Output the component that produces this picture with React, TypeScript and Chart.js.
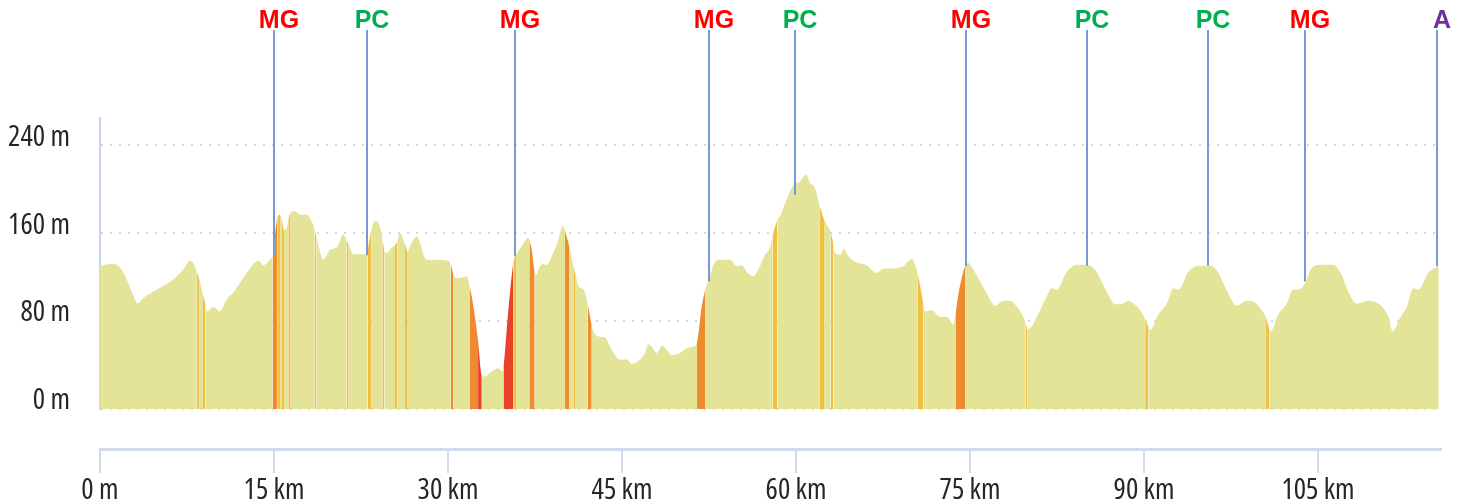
import React, { useEffect, useRef } from 'react';
import { Chart, registerables } from 'chart.js';

Chart.register(...registerables);

// Profile: distance (km) and elevation (m)
const distanceKm = [
  0, 0.26, 1.12, 1.72, 2.3, 2.84, 3.25, 3.73, 4.59, 5.46, 6.32, 7.18, 7.76, 8.1, 8.34, 8.53, 8.88, 9.09, 9.2, 9.77,
  10.34, 10.92, 11.49, 12.65, 13.65, 14.08, 14.66, 14.89, 15.28, 15.52, 15.69, 15.86, 16.12, 16.23, 16.44, 16.81, 17.24, 17.82, 18.25, 18.49,
  18.66, 19.25, 19.83, 20.41, 20.97, 21.27, 21.44, 21.84, 22.99, 23.08, 23.42, 23.71, 24.14, 24.34, 24.51, 24.72, 25.15, 25.43, 25.63, 25.86,
  26.29, 26.53, 26.72, 27.3, 28.16, 28.73, 30.03, 30.23, 30.46, 30.75, 31.32, 31.61, 31.9, 32.18, 32.59, 32.91, 33.19, 33.62, 34.34, 34.72,
  34.78, 35.2, 35.63, 35.86, 36.35, 36.92, 37.01, 37.22, 37.47, 37.59, 37.93, 38.22, 38.51, 38.94, 39.51, 39.89, 40.09, 40.43, 40.52, 40.8,
  41.01, 41.23, 41.66, 41.96, 42.04, 42.39, 42.53, 42.96, 43.53, 44.11, 44.83, 45.41, 45.84, 46.55, 46.98, 47.27, 47.56, 47.99, 48.47, 48.85,
  49.28, 50.0, 50.58, 51.15, 51.47, 51.87, 52.16, 52.53, 52.87, 53.3, 54.31, 54.89, 55.32, 55.75, 56.32, 56.75, 57.33, 57.76, 57.99, 58.39,
  58.62, 59.2, 59.77, 60.34, 60.86, 61.21, 61.64, 62.01, 62.41, 62.65, 62.99, 63.22, 63.36, 63.79, 64.14, 64.51, 65.23, 66.09, 66.96, 67.53,
  68.39, 69.25, 69.97, 70.41, 70.46, 70.97, 71.12, 71.7, 72.41, 72.99, 73.56, 73.79, 73.99, 74.57, 74.85, 75.28, 75.86, 76.58, 77.16, 77.87,
  78.45, 79.03, 79.59, 79.8, 79.97, 80.17, 81.03, 81.61, 82.04, 82.47, 83.34, 84.2, 85.06, 85.78, 86.35, 86.92, 87.5, 88.08, 88.65, 89.22,
  89.66, 90.17, 90.37, 90.52, 91.23, 91.96, 92.53, 92.96, 93.82, 94.83, 95.54, 96.12, 96.7, 97.27, 97.99, 98.85, 99.42, 100.0, 100.52, 100.8,
  100.92, 101.57, 102.3, 102.87, 103.3, 103.97, 104.31, 105.17, 106.32, 107.04, 107.6, 108.34, 109.34, 110.34, 111.06, 111.44, 112.07, 112.66, 113.22, 113.65,
  114.5, 115.4,
];
const elevationM = [
  130, 131, 132, 129, 118, 104, 96, 101, 107, 112, 118, 127, 135, 132, 125, 119, 104, 95, 89, 93,
  89, 100, 106, 124, 135, 131, 136, 140, 174, 177, 172, 163, 166, 172, 179, 180, 177, 177, 171, 164,
  157, 136, 145, 147, 159, 154, 150, 141, 141, 145, 164, 171, 166, 155, 145, 142, 147, 149, 153, 160,
  150, 143, 148, 157, 136, 136, 135, 132, 123, 119, 120, 121, 110, 94, 62, 31, 29.5, 33, 37, 34,
  38, 90, 133, 140, 148, 156, 154, 145, 125, 122, 130, 132, 131, 139, 154, 167, 162, 149, 145, 131,
  122, 112, 109, 100, 96, 76, 71, 66, 65, 54, 45, 45, 41, 45, 51, 59, 57, 51, 57.5, 54,
  49, 51, 55.5, 57, 61, 93, 108, 119, 131, 136, 136, 130, 131, 125, 121, 127, 140.5, 147, 158, 172,
  175.5, 191, 204, 207, 213.5, 206, 201, 186, 173, 168, 161, 150, 142, 140.5, 146, 139, 133.5, 131, 124, 128,
  128, 130, 136.6, 127, 125, 97, 89, 90, 84, 84, 77, 90, 104, 130, 133, 127, 116, 102.5, 94, 98.6,
  98.6, 93.4, 84, 78, 73, 73.6, 90, 102.5, 110, 108.6, 125, 131.4, 131.4, 127, 116, 104, 95.5, 95.5, 98.6, 95,
  90, 80, 75, 72, 86, 96, 110, 108.6, 125, 130.5, 130.5, 128.4, 117.7, 105, 94, 98.6, 98, 92, 83, 73,
  70.5, 86, 96, 109, 108.6, 116, 126, 131.4, 131.4, 122, 107, 96, 98.6, 95, 84, 70.5, 83, 93.4, 110, 108.6,
  124, 130,
];

// Steep sections: start km, end km, grade class (1 = moderate, 2 = steep, 3 = very steep)
const gradeStartKm = [8.34, 8.88, 14.89, 15.28, 15.69, 16.23, 18.49, 21.27, 23.08, 24.34, 25.43, 26.29, 30.23, 31.9, 32.59, 34.78, 35.63, 37.01, 40.09, 40.8, 42.04, 51.47, 57.99, 62.01, 62.99, 70.46, 73.79, 79.8, 90.17, 100.52];
const gradeEndKm = [8.53, 9.09, 15.28, 15.52, 15.86, 16.44, 18.66, 21.44, 23.42, 24.51, 25.63, 26.53, 30.46, 32.59, 32.91, 35.63, 35.86, 37.47, 40.43, 41.01, 42.39, 52.16, 58.39, 62.41, 63.22, 70.97, 74.57, 79.97, 90.37, 100.8];
const gradeClass = [1, 1, 2, 1, 1, 1, 1, 1, 1, 1, 1, 1, 2, 2, 3, 3, 1, 2, 2, 1, 2, 2, 1, 1, 1, 1, 2, 1, 1, 1];

// Markers along the route
const markerKm = [15.0, 23.02, 35.78, 52.5, 59.91, 74.66, 85.09, 95.52, 103.88, 115.26];
const markerElevM = [140, 140, 139, 116, 195, 130, 130.5, 130.5, 116, 130];
const markerLabel = ['MG', 'PC', 'MG', 'MG', 'PC', 'MG', 'PC', 'PC', 'MG', 'A'];

// Axis ticks
const xTicksKm = [0, 15, 30, 45, 60, 75, 90, 105];
const yTicksM = [0, 80, 160, 240];

const labelColors: Record<string, string> = { MG: '#ff0000', PC: '#00b050', A: '#7030a0' };
const gradeColors = ['#e3e497', '#f2bf45', '#ef8a2e', '#e8432a'];
const axisFont = {
  family: "'Open Sans', 'DejaVu Sans Condensed', sans-serif",
  weight: '400 condensed',
  size: 29,
};
const axisLine = '#d2daee';

export default function App() {
  const ref = useRef<HTMLCanvasElement>(null);

  useEffect(() => {
    const canvas = ref.current;
    if (!canvas) return;
    const points = distanceKm.map((x, i) => ({ x, y: elevationM[i] }));

    const colorFor = (a: number, b: number) => {
      const m = (a + b) / 2;
      for (let i = 0; i < gradeStartKm.length; i++) {
        if (m > gradeStartKm[i] && m < gradeEndKm[i]) return gradeColors[gradeClass[i]];
      }
      return gradeColors[0];
    };

    const markerPlugin = {
      id: 'markers',
      afterDatasetsDraw(chart: any) {
        const { ctx, scales } = chart;
        const xs = scales.x;
        const ys = scales.y;
        ctx.save();
        markerKm.forEach((km, i) => {
          const px = Math.round(xs.getPixelForValue(km));
          const py = ys.getPixelForValue(markerElevM[i]);
          ctx.strokeStyle = '#7898d6';
          ctx.lineWidth = 2;
          ctx.beginPath();
          ctx.moveTo(px, 30);
          ctx.lineTo(px, py);
          ctx.stroke();
          ctx.fillStyle = labelColors[markerLabel[i]];
          ctx.font = "bold 25px 'Liberation Sans', Arial, sans-serif";
          ctx.textAlign = 'center';
          ctx.textBaseline = 'alphabetic';
          ctx.fillText(markerLabel[i], px + 5, 28);
        });
        ctx.restore();
      },
    };

    const chart = new Chart(canvas, {
      type: 'line',
      data: {
        datasets: [
          {
            data: points,
            parsing: false as any,
            fill: 'origin',
            backgroundColor: gradeColors[0],
            borderColor: 'rgba(0,0,0,0)',
            borderWidth: 0,
            pointRadius: 0,
            cubicInterpolationMode: 'monotone',
            segment: {
              backgroundColor: (c: any) => colorFor(c.p0.parsed.x, c.p1.parsed.x),
            },
          } as any,
        ],
      },
      options: {
        animation: false,
        responsive: false,
        devicePixelRatio: 1,
        layout: { padding: { top: 118, right: 24, left: 0, bottom: 0 } },
        plugins: { legend: { display: false }, tooltip: { enabled: false } },
        scales: {
          x: {
            type: 'linear',
            position: 'bottom',
            weight: 0,
            min: 0,
            max: 115.6,
            ticks: { display: false },
            grid: { display: false },
            border: { display: false },
            afterFit: (s: any) => { s.height = 40; },
          },
          x2: {
            type: 'linear',
            position: 'bottom',
            weight: 1,
            min: 0,
            max: 115.6,
            afterBuildTicks: (s: any) => { s.ticks = xTicksKm.map((v) => ({ value: v })); },
            ticks: {
              callback: (v: any) => (v === 0 ? '0 m' : `${v} km`),
              font: axisFont,
              color: '#262626',
              padding: 0,
              maxRotation: 0,
              autoSkip: false,
            },
            grid: { drawOnChartArea: false, drawTicks: true, tickLength: 24, color: axisLine, lineWidth: 2 },
            border: { display: true, color: axisLine, width: 3 },
            afterFit: (s: any) => { s.height = 55; },
          },
          y: {
            type: 'linear',
            min: 0,
            max: 265,
            afterBuildTicks: (s: any) => { s.ticks = yTicksM.map((v) => ({ value: v })); },
            ticks: {
              callback: (v: any) => `${v} m`,
              font: axisFont,
              color: '#262626',
              padding: 30,
              labelOffset: -8,
            },
            grid: { color: '#d6d6dc', lineWidth: 2, drawTicks: false },
            border: { display: true, color: '#c8d4ef', width: 2, dash: [2, 7] },
            afterFit: (s: any) => { s.width = 100; },
          },
        },
      } as any,
      plugins: [markerPlugin],
    });

    return () => chart.destroy();
  }, []);

  return (
    <div style={{ position: 'fixed', left: 0, top: 0, width: 1465, height: 504, background: '#ffffff' }}>
      <canvas ref={ref} width={1465} height={504} style={{ display: 'block' }} />
    </div>
  );
}
